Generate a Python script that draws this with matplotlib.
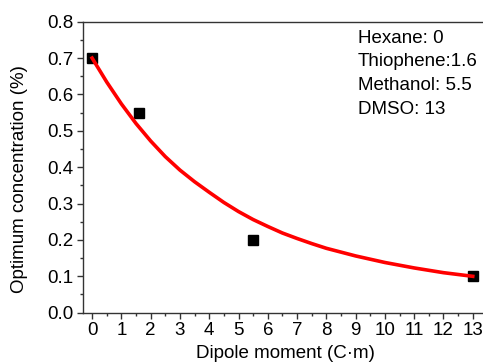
import numpy as np
import matplotlib
matplotlib.use("Agg")
import matplotlib.pyplot as plt
from matplotlib.ticker import MultipleLocator

# measured points
dipole = [0, 1.6, 5.5, 13]
conc = [0.70, 0.55, 0.20, 0.10]

# fitted decay curve
fit_x = [0, 0.5, 1, 1.5, 2, 2.5, 3, 3.5, 4, 4.5, 5, 5.5, 6, 6.5, 7, 7.5,
         8, 9, 10, 11, 12, 13]
fit_y = [0.700, 0.634, 0.574, 0.520, 0.472, 0.429, 0.392, 0.360, 0.331,
         0.303, 0.278, 0.256, 0.237, 0.219, 0.204, 0.190, 0.177, 0.156,
         0.138, 0.123, 0.110, 0.100]

solvents = ["Hexane: 0", "Thiophene:1.6", "Methanol: 5.5", "DMSO: 13"]

plt.rcParams["font.family"] = ["Liberation Sans", "DejaVu Sans"]

fig = plt.figure(figsize=(4.83, 3.63), dpi=100)
ax = fig.add_axes([0.1725, 0.1386, 0.8366, 0.8017])

ax.plot(dipole, conc, "s", color="black", markersize=6.5, zorder=2)
ax.plot(fit_x, fit_y, color="#ff0000", linewidth=2.6, zorder=3,
        solid_joinstyle="round")

ax.set_xlim(-0.3, 13.5)
ax.set_ylim(0, 0.8)
ax.xaxis.set_major_locator(MultipleLocator(1))
ax.xaxis.set_minor_locator(MultipleLocator(0.5))
ax.yaxis.set_major_locator(MultipleLocator(0.1))
ax.yaxis.set_minor_locator(MultipleLocator(0.05))
ax.yaxis.set_major_formatter(plt.FormatStrFormatter("%.1f"))

ax.tick_params(which="both", direction="out", top=False, right=False,
               labelsize=13.5, color="#333333", width=1)
ax.tick_params(which="major", length=4, pad=3)
ax.tick_params(which="minor", length=2)
for s in ax.spines.values():
    s.set_color("#333333")
    s.set_linewidth(1)

fig.text(20 / 483, 1 - 179 / 363, "Optimum concentration (%)", rotation=90,
         ha="center", va="center", fontsize=13.5)
fig.text(285 / 483, 1 - 353 / 363, "Dipole moment (C\u00b7m)",
         ha="center", va="center", fontsize=13.5)

fig.text(358 / 483, 1 - 30 / 363, "\n".join(solvents), ha="left", va="top",
         fontsize=13.5, linespacing=1.5)

fig.savefig("out.png", dpi=100)
